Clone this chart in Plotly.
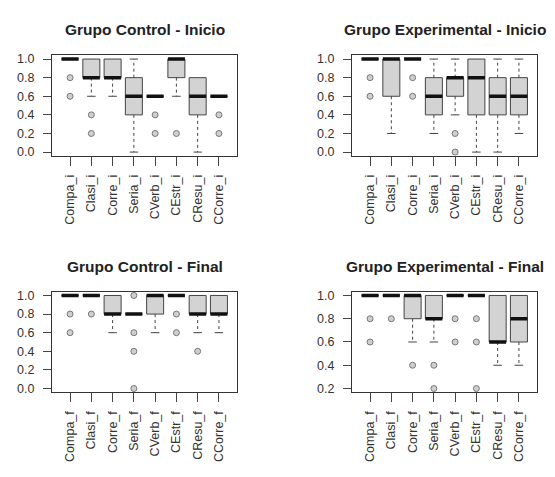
import plotly.graph_objects as go

# ---------------- data ----------------
labels_i = ["Compa_i", "Clasi_i", "Corre_i", "Seria_i", "CVerb_i", "CEstr_i", "CResu_i", "CCorre_i"]
labels_f = ["Compa_f", "Clasi_f", "Corre_f", "Seria_f", "CVerb_f", "CEstr_f", "CResu_f", "CCorre_f"]

titles = ["Grupo Control - Inicio", "Grupo Experimental - Inicio",
          "Grupo Control - Final", "Grupo Experimental - Final"]

# Grupo Control - Inicio
ci_q1 = [1.0, 0.8, 0.8, 0.4, 0.6, 0.8, 0.4, 0.6]
ci_med = [1.0, 0.8, 0.8, 0.6, 0.6, 1.0, 0.6, 0.6]
ci_q3 = [1.0, 1.0, 1.0, 0.8, 0.6, 1.0, 0.8, 0.6]
ci_lo = [1.0, 0.6, 0.6, 0.0, 0.6, 0.6, 0.0, 0.6]
ci_hi = [1.0, 1.0, 1.0, 1.0, 0.6, 1.0, 0.8, 0.6]
ci_out = [[0.8, 0.6], [0.4, 0.2], [], [], [0.4, 0.2], [0.2], [], [0.4, 0.2]]

# Grupo Experimental - Inicio
ei_q1 = [1.0, 0.6, 1.0, 0.4, 0.6, 0.4, 0.4, 0.4]
ei_med = [1.0, 1.0, 1.0, 0.6, 0.8, 0.8, 0.6, 0.6]
ei_q3 = [1.0, 1.0, 1.0, 0.8, 0.8, 1.0, 0.8, 0.8]
ei_lo = [1.0, 0.2, 1.0, 0.2, 0.4, 0.0, 0.0, 0.2]
ei_hi = [1.0, 1.0, 1.0, 1.0, 1.0, 1.0, 1.0, 1.0]
ei_out = [[0.8, 0.6], [], [0.8, 0.6], [], [0.2, 0.0], [], [], []]

# Grupo Control - Final
cf_q1 = [1.0, 1.0, 0.8, 0.8, 0.8, 1.0, 0.8, 0.8]
cf_med = [1.0, 1.0, 0.8, 0.8, 1.0, 1.0, 0.8, 0.8]
cf_q3 = [1.0, 1.0, 1.0, 0.8, 1.0, 1.0, 1.0, 1.0]
cf_lo = [1.0, 1.0, 0.6, 0.8, 0.6, 1.0, 0.6, 0.6]
cf_hi = [1.0, 1.0, 1.0, 0.8, 1.0, 1.0, 1.0, 1.0]
cf_out = [[0.8, 0.6], [0.8], [], [1.0, 0.6, 0.4, 0.0], [], [0.8, 0.6], [0.4], []]

# Grupo Experimental - Final
ef_q1 = [1.0, 1.0, 0.8, 0.8, 1.0, 1.0, 0.6, 0.6]
ef_med = [1.0, 1.0, 1.0, 0.8, 1.0, 1.0, 0.6, 0.8]
ef_q3 = [1.0, 1.0, 1.0, 1.0, 1.0, 1.0, 1.0, 1.0]
ef_lo = [1.0, 1.0, 0.6, 0.6, 1.0, 1.0, 0.4, 0.4]
ef_hi = [1.0, 1.0, 1.0, 1.0, 1.0, 1.0, 1.0, 1.0]
ef_out = [[0.8, 0.6], [0.8], [0.4], [0.4, 0.2], [0.8, 0.6], [0.8, 0.6, 0.2], [], []]

ytick_vals_full = [0.0, 0.2, 0.4, 0.6, 0.8, 1.0]
ytick_vals_high = [0.2, 0.4, 0.6, 0.8, 1.0]

panels = [
    (labels_i, ci_q1, ci_med, ci_q3, ci_lo, ci_hi, ci_out, ytick_vals_full),
    (labels_i, ei_q1, ei_med, ei_q3, ei_lo, ei_hi, ei_out, ytick_vals_full),
    (labels_f, cf_q1, cf_med, cf_q3, cf_lo, cf_hi, cf_out, ytick_vals_full),
    (labels_f, ef_q1, ef_med, ef_q3, ef_lo, ef_hi, ef_out, ytick_vals_high),
]

# ---------------- layout geometry ----------------
# the page body has an 8px margin, so figure coords = page coords - 8
OFF = 8
W, H = 547, 469
def px(v):
    return (v - OFF) / W
def py(v):
    return 1 - (v - OFF) / H

xdoms = [[px(52), px(237)], [px(352), px(537)]]
ydoms = [[py(155), py(53)], [py(395), py(293)]]
title_y = [py(27), py(267)]

BOXCOL = "#d3d3d3"
EDGE = "#444444"
FONT = "Liberation Sans, Arial, sans-serif"

fig = go.Figure()
layout = dict(
    width=W, height=H, margin=dict(l=0, r=0, t=0, b=0),
    paper_bgcolor="white", plot_bgcolor="white", showlegend=False,
    font=dict(family=FONT, size=12, color="#333"),
    annotations=[],
)

hw = 0.4   # half box width
sw = 0.2   # half staple width

for p, (labs, q1, med, q3, lo, hi, outs, yt) in enumerate(panels):
    row, col = divmod(p, 2)
    suffix = "" if p == 0 else str(p + 1)
    xa, ya = "x" + suffix, "y" + suffix
    n = len(labs)
    xs = list(range(1, n + 1))

    # boxes
    for i in range(n):
        x = xs[i]
        fig.add_trace(go.Scatter(
            x=[x - hw, x + hw, x + hw, x - hw, x - hw],
            y=[q1[i], q1[i], q3[i], q3[i], q1[i]],
            mode="lines", fill="toself", fillcolor=BOXCOL,
            line=dict(color=EDGE, width=1), xaxis=xa, yaxis=ya, hoverinfo="skip"))

    # whiskers (dashed)
    wx, wy = [], []
    for i in range(n):
        x = xs[i]
        if hi[i] > q3[i]:
            wx += [x, x, None]; wy += [q3[i], hi[i], None]
        if lo[i] < q1[i]:
            wx += [x, x, None]; wy += [q1[i], lo[i], None]
    fig.add_trace(go.Scatter(x=wx, y=wy, mode="lines",
                             line=dict(color=EDGE, width=1, dash="3px,3px"),
                             xaxis=xa, yaxis=ya, hoverinfo="skip"))

    # staples
    sx, sy = [], []
    for i in range(n):
        x = xs[i]
        if hi[i] > q3[i]:
            sx += [x - sw, x + sw, None]; sy += [hi[i], hi[i], None]
        if lo[i] < q1[i]:
            sx += [x - sw, x + sw, None]; sy += [lo[i], lo[i], None]
    fig.add_trace(go.Scatter(x=sx, y=sy, mode="lines",
                             line=dict(color=EDGE, width=1),
                             xaxis=xa, yaxis=ya, hoverinfo="skip"))

    # medians (thick)
    mx, my = [], []
    for i in range(n):
        x = xs[i]
        mx += [x - hw, x + hw, None]; my += [med[i], med[i], None]
    fig.add_trace(go.Scatter(x=mx, y=my, mode="lines",
                             line=dict(color="#111", width=3.5),
                             xaxis=xa, yaxis=ya, hoverinfo="skip"))

    # outliers
    ox, oy = [], []
    for i in range(n):
        for v in outs[i]:
            ox.append(xs[i]); oy.append(v)
    fig.add_trace(go.Scatter(x=ox, y=oy, mode="markers",
                             marker=dict(symbol="circle", size=6, color="#cfcfcf",
                                         line=dict(width=1, color="#777")),
                             xaxis=xa, yaxis=ya))

    ymin = min(yt)
    span = 1.0 - ymin
    layout["xaxis" + suffix] = dict(
        domain=xdoms[col], anchor=ya, range=[0.15, n + 0.85],
        tickmode="array", tickvals=xs, ticktext=labs, tickangle=-90,
        ticks="outside", ticklen=9, tickcolor="#444",
        showline=True, mirror=True, linecolor="#333", linewidth=1,
        showgrid=False, zeroline=False, tickfont=dict(size=12.5),
        ticklabelstandoff=4)
    layout["yaxis" + suffix] = dict(
        domain=ydoms[row], anchor=xa,
        range=[ymin - 0.04 * span, 1.0 + 0.04 * span],
        tickmode="array", tickvals=yt, ticktext=["%.1f" % v for v in yt],
        ticks="outside", ticklen=8, tickcolor="#444",
        showline=True, mirror=True, linecolor="#333", linewidth=1,
        showgrid=False, zeroline=False, tickfont=dict(size=12.5),
        ticklabelstandoff=6)

    layout["annotations"].append(dict(
        text="<b>" + titles[p] + "</b>", xref="paper", yref="paper",
        x=(xdoms[col][0] + xdoms[col][1]) / 2, y=title_y[row],
        xanchor="center", yanchor="middle", showarrow=False,
        font=dict(size=15.5, color="#222", family=FONT)))

fig.update_layout(**layout)
fig.write_html("out.html")
